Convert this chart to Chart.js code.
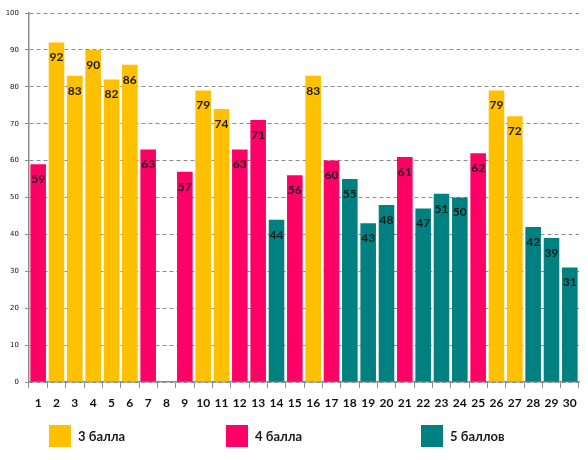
<!DOCTYPE html>
<html><head><meta charset="utf-8">
<script src="https://cdn.jsdelivr.net/npm/chart.js@4"></script>
<style>html,body{margin:0;padding:0;background:#fff}#wrap{width:588px;height:460px;position:relative}</style>
</head><body><div id="wrap"><canvas id="c"></canvas></div>
<script>
const categories = ['1','2','3','4','5','6','7','8','9','10','11','12','13','14','15','16','17','18','19','20','21','22','23','24','25','26','27','28','29','30'];
const score3 = [null,92,83,90,82,86,null,null,null,79,74,null,null,null,null,83,null,null,null,null,null,null,null,null,null,79,72,null,null,null];
const score4 = [59,null,null,null,null,null,63,null,57,null,null,63,71,null,56,null,60,null,null,null,61,null,null,null,62,null,null,null,null,null];
const score5 = [null,null,null,null,null,null,null,null,null,null,null,null,null,44,null,null,null,55,43,48,null,47,51,50,null,null,null,42,39,31];
const seriesNames = ['3 балла','4 балла','5 баллов'];
const seriesColors = ['#FFC000','#FF0066','#008080'];
const yTicks = [0,10,20,30,40,50,60,70,80,90,100];

const labelPlugin = {
  id:'vals',
  afterDatasetsDraw(chart){
    const ctx = chart.ctx;
    ctx.save();
    ctx.font = 'bold 12px Lato, "Open Sans", sans-serif';
    ctx.fillStyle = '#1a1a1a';
    ctx.textAlign = 'center';
    ctx.textBaseline = 'middle';
    chart.data.datasets.forEach((ds,i)=>{
      chart.getDatasetMeta(i).data.forEach((bar,j)=>{
        const v = ds.data[j];
        if (v === null || v === undefined) return;
        ctx.fillText(String(v), bar.x, bar.y + 15);
      });
    });
    ctx.restore();
  }
};
const legendPlugin = {
  id:'customLegend',
  afterDraw(chart){
    const ctx = chart.ctx;
    const boxX = [49,226,421];
    ctx.save();
    ctx.font = 'bold 13px Lato, "Open Sans", sans-serif';
    ctx.textBaseline = 'middle';
    ctx.textAlign = 'left';
    chart.data.datasets.forEach((ds,i)=>{
      ctx.fillStyle = ds.backgroundColor;
      ctx.fillRect(boxX[i],425,22,22);
      ctx.fillStyle = '#1a1a1a';
      ctx.fillText(ds.label, boxX[i]+29, 437);
    });
    ctx.restore();
  }
};

new Chart(document.getElementById('c'), {
  type:'bar',
  data:{
    labels:categories,
    datasets:[
      {label:seriesNames[0], data:score3, backgroundColor:seriesColors[0]},
      {label:seriesNames[1], data:score4, backgroundColor:seriesColors[1]},
      {label:seriesNames[2], data:score5, backgroundColor:seriesColors[2]}
    ]
  },
  options:{
    responsive:true, maintainAspectRatio:false, animation:false,
    layout:{padding:{top:13,right:9,bottom:48,left:0}},
    plugins:{legend:{display:false}, tooltip:{enabled:false}},
    datasets:{bar:{barPercentage:0.85, categoryPercentage:1, skipNull:true}},
    scales:{
      x:{
        stacked:true,
        afterFit:s=>{s.height=30;},
        grid:{offset:true, drawOnChartArea:false, color:'#8c8c8c', tickLength:6, tickColor:'#8c8c8c'},
        border:{color:'#8c8c8c', width:1.5},
        ticks:{color:'#111', font:{family:'Lato, "Open Sans", sans-serif', weight:'bold', size:12}, padding:8, maxRotation:0, autoSkip:false}
      },
      y:{
        stacked:false,
        min:0,max:100,
        afterFit:s=>{s.width=29;},
        afterBuildTicks:s=>{s.ticks = yTicks.map(v=>({value:v}));},
        grid:{color:'#8c8c8c', tickLength:4, lineWidth:1},
        border:{color:'#8c8c8c', width:1.5, dash:[4,3]},
        ticks:{color:'#111', font:{family:'"DejaVu Sans", sans-serif', size:7}, padding:6}
      }
    }
  },
  plugins:[labelPlugin, legendPlugin]
});
</script></body></html>
